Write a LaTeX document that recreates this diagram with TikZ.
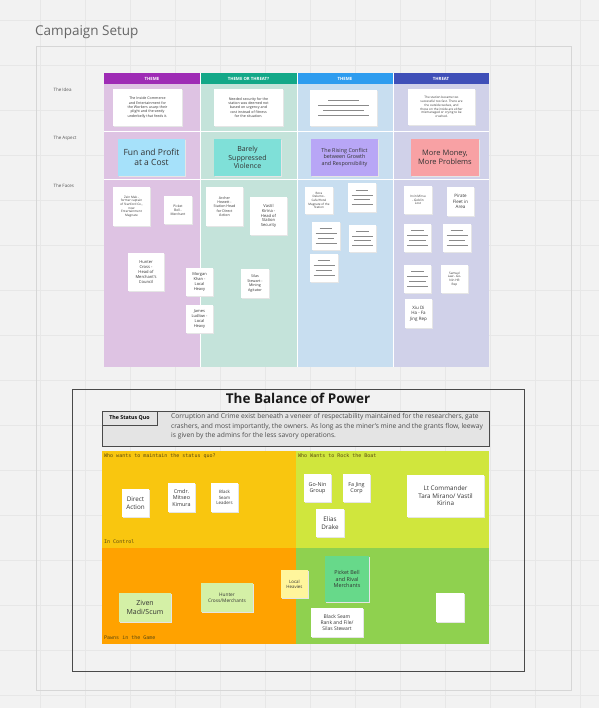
\documentclass[tikz,border=0pt]{standalone}
\usepackage{fontspec}
\setmainfont{Open Sans}
\newfontfamily\monofont{DejaVu Sans Mono}
\definecolor{bgc}{HTML}{F2F2F2}
\definecolor{gridc}{HTML}{E7E7E7}
\definecolor{framec}{HTML}{D6D6D6}
\definecolor{hpurple}{HTML}{9E2BB5}
\definecolor{hteal}{HTML}{13A888}
\definecolor{hblue}{HTML}{2D9CEF}
\definecolor{hindigo}{HTML}{3F4FB8}
\definecolor{bpurple}{HTML}{DEC3E3}
\definecolor{bteal}{HTML}{C4E3DA}
\definecolor{bblue}{HTML}{C8DEF0}
\definecolor{bindigo}{HTML}{D0D1E9}
\definecolor{aspblue}{HTML}{A6E1FA}
\definecolor{aspteal}{HTML}{7FE0D8}
\definecolor{asplav}{HTML}{B8A6F6}
\definecolor{asppink}{HTML}{F8A1A4}
\definecolor{qyellow}{HTML}{F9C60F}
\definecolor{qlime}{HTML}{D0E63D}
\definecolor{qorange}{HTML}{FFA200}
\definecolor{qgreen}{HTML}{8FD14F}
\definecolor{sqfill}{HTML}{E4E4E4}
\definecolor{darkb}{HTML}{4A4A4A}
\definecolor{lgreen}{HTML}{D4F0A6}
\definecolor{lyellow}{HTML}{FFF59C}
\definecolor{mgreen}{HTML}{67D98A}
\definecolor{notetext}{HTML}{333333}
\definecolor{labgray}{HTML}{555555}
\definecolor{quadlab}{HTML}{5A4A10}
\definecolor{phline}{HTML}{8A8A8A}
\tikzset{
  snotebox/.style={draw=none, inner sep=0.5pt, align=center, text=notetext, anchor=center},
  hdrtext/.style={text=white, font=\bfseries\fontsize{4.3}{5}\selectfont, anchor=center},
  rowlab/.style={text=labgray, font=\fontsize{4.5}{5.5}\selectfont, anchor=west},
  quadtext/.style={text=quadlab, font=\monofont\fontsize{5}{6}\selectfont, anchor=west, inner sep=0pt},
}
% name, x1, y1, x2, y2, fill, font size, text
\newcommand\snote[8]{%
  \fill[black!10] (#2+0.7,#3+1.1) rectangle (#4+0.7,#5+1.1);
  \node[snotebox, fill=#6, minimum width={(#4-#2)*1pt}, minimum height={(#5-#3)*1pt},
        font=\fontsize{#7}{\dimexpr #7pt*6/5\relax}\selectfont] (#1) at ({(#2+#4)/2},{(#3+#5)/2}) {#8};}
% placeholder note: name, x1, y1, x2, y2
\newcommand\pnote[5]{%
  \fill[black!10] (#2+0.7,#3+1.1) rectangle (#4+0.7,#5+1.1);
  \node[snotebox, fill=white, minimum width={(#4-#2)*1pt}, minimum height={(#5-#3)*1pt}] (#1) at ({(#2+#4)/2},{(#3+#5)/2}) {};
  \foreach \w/\k in {0.45/-1.5,0.75/-0.5,0.6/0.5,0.75/1.5}{
    \draw[phline, line width=0.9pt] ($(#1.center)+(-\w*0.5*#4+\w*0.5*#2,\k*4.8)$) -- ($(#1.center)+(\w*0.5*#4-\w*0.5*#2,\k*4.8)$);}
}
\usetikzlibrary{calc}
\begin{document}
\begin{tikzpicture}[x=1pt,y=-1pt]
\useasboundingbox (0,0) rectangle (599,708);
\fill[bgc] (0,0) rectangle (599,708);
% grid
\foreach \gx in {40,85,...,599} \draw[gridc, line width=0.5pt] (\gx,0) -- (\gx,708);
\foreach \gy in {20,65,...,708} \draw[gridc, line width=0.5pt] (0,\gy) -- (599,\gy);
% frame
\node[anchor=west, text=black!60, font=\fontsize{13.5}{16}\selectfont, inner sep=0pt] (frametitle) at (35,32) {Campaign Setup};
\draw[framec, line width=0.8pt] (36,46) rectangle (571,690);

% board columns
\fill[bpurple] (104,84) rectangle (200,367);
\fill[bteal] (200,84) rectangle (297,367);
\fill[bblue] (297,84) rectangle (393,367);
\fill[bindigo] (393,84) rectangle (489,367);
\fill[hpurple] (104,73) rectangle (200,84);
\fill[hteal] (200,73) rectangle (297,84);
\fill[hblue] (297,73) rectangle (393,84);
\fill[hindigo] (393,73) rectangle (489,84);
\node[hdrtext] (h1) at (152,78.5) {THEME};
\node[hdrtext] (h2) at (248.5,78.5) {THEME OR THREAT?};
\node[hdrtext] (h3) at (345,78.5) {THEME};
\node[hdrtext] (h4) at (441,78.5) {THREAT};
\draw[white, line width=1pt] (104,132) -- (489,132);
\draw[white, line width=1pt] (104,180) -- (489,180);
\foreach \cx in {200,297,393} \draw[white, line width=1pt] (\cx,73) -- (\cx,367);

% row labels
\node[rowlab] (rl1) at (50,90) {The Idea};
\node[rowlab] (rl2) at (50,138) {The Aspect};
\node[rowlab] (rl3) at (50,186) {The Faces};

% idea notes
\snote{i1}{113}{89}{182}{126}{white}{3.6}{The Inside Commerce\\and Entertainment for\\the Workers usurp their\\plight and the seedy\\underbelly that feeds it.}
\snote{i2}{214}{89}{283}{126}{white}{3.6}{Needed security for the\\station was deemed not\\based on urgency and\\cost instead of fitness\\for the situation.}
\pnote{i3}{310}{90}{377}{126}
\snote{i4}{408}{89}{475}{125}{white}{3.1}{The station became too\\successful too fast. There are\\the outside wolves, and\\those on the inside are either\\mismanaged or crying to be\\crushed.}

% aspect notes
\snote{a1}{118}{139}{185}{176}{aspblue}{8.5}{Fun and Profit\\at a Cost}
\snote{a2}{214}{139}{281}{176}{aspteal}{7}{Barely\\Suppressed\\Violence}
\snote{a3}{311}{139}{378}{176}{asplav}{5.4}{The Rising Conflict\\between Growth\\and Responsibility}
\snote{a4}{411}{139}{479}{176}{asppink}{7.5}{More Money,\\More Problems}

% faces
\snote{f1}{113}{187}{150}{226}{white}{3.1}{Zein Mak -\\former captain\\of Stanford Co.,\\now\\Entertainment\\Magnate}
\snote{f2}{164}{196}{192}{224}{white}{3.3}{Picket\\Bell -\\Merchant}
\snote{f3}{206}{187}{243}{226}{white}{3.6}{Archer\\Hewett -\\Station Head\\for Direct\\Action}
\snote{f4}{250}{197}{287}{235}{white}{4.1}{Vastil\\Kirina -\\Head of\\Station\\Security}
\snote{f5}{128}{253}{164}{291}{white}{4.1}{Hunter\\Cross -\\Head of\\Merchant's\\Council}
\snote{f6}{186}{268}{213}{296}{white}{4}{Morgan\\Khan -\\Local\\Heavy}
\snote{f7}{241}{269}{269}{298}{white}{3.7}{Silas\\Stewart -\\Mining\\Agitator}
\snote{f8}{186}{305}{213}{333}{white}{4}{James\\Ludlow -\\Local\\Heavy}
\snote{f9}{305}{187}{333}{214}{white}{3}{Bora\\Delumo -\\Cafe/Hotel\\Magnate of the\\Station}
\pnote{f10}{348}{183}{376}{212}
\pnote{f11}{312}{222}{340}{250}
\pnote{f12}{349}{225}{376}{252}
\pnote{f13}{310}{254}{338}{282}
\snote{f14}{404}{186}{432}{214}{white}{3.1}{Irvin Mirsu\\- Goblin\\Lost}
\snote{f15}{447}{187}{474}{216}{white}{4.5}{Pirate\\Fleet in\\Area}
\pnote{f16}{404}{224}{431}{252}
\pnote{f17}{443}{224}{471}{252}
\pnote{f18}{404}{265}{431}{293}
\snote{f19}{441}{265}{468}{293}{white}{3.1}{Samuel\\Law - Go-\\Nin HR\\Rep}
\snote{f20}{405}{299}{432}{328}{white}{4.5}{Xiu Di\\Ha - Fa\\Jing Rep}

% balance of power frame
\draw[darkb, line width=0.8pt] (72,389) rectangle (524,671);
\node[font=\bfseries\fontsize{13.5}{15}\selectfont, text=black!90] (bptitle) at (298,398) {The Balance of Power};
\draw[darkb, fill=sqfill, line width=0.8pt] (102,411) rectangle (489,446);
\node[draw=darkb, line width=0.8pt, fill=sqfill, font=\bfseries\fontsize{5.3}{6}\selectfont, minimum width=55pt, minimum height=14pt, inner sep=0pt] (sq) at (129.5,418) {The Status Quo};
\node[anchor=north west, align=left, inner sep=0pt, text=black!70, font=\fontsize{6.7}{9.4}\selectfont] (sqtext) at (171,413.5) {Corruption and Crime exist beneath a veneer of respectability maintained for the researchers, gate\\crashers, and most importantly, the owners. As long as the miner's mine and the grants flow, leeway\\is given by the admins for the less savory operations.};

% quadrants
\fill[qyellow] (102,451) rectangle (296,548);
\fill[qlime] (296,451) rectangle (489,548);
\fill[qorange] (102,548) rectangle (296,644);
\fill[qgreen] (296,548) rectangle (489,644);
\node[quadtext] (q1) at (104,456) {Who wants to maintain the status quo?};
\node[quadtext] (q2) at (104,542) {In Control};
\node[quadtext] (q3) at (298,456) {Who Wants to Rock the Boat};
\node[quadtext] (q4) at (104,638) {Pawns in the Game};

\snote{b1}{122}{489}{149}{517}{white}{6.3}{Direct\\Action}
\snote{b2}{168}{483}{195}{512}{white}{5.4}{Cmdr.\\Mitseo\\Kimura}
\snote{b3}{211}{483}{238}{512}{white}{4.4}{Black\\Seam\\Leaders}
\snote{b4}{304}{474}{331}{502}{white}{5.4}{Go-Nin\\Group}
\snote{b5}{343}{474}{370}{502}{white}{5.4}{Fa Jing\\Corp}
\snote{b6}{316}{509}{344}{537}{white}{6.3}{Elias\\Drake}
\snote{b7}{407}{475}{484}{517}{white}{6.3}{Lt Commander\\Tara Mirano/ Vastil\\Kirina}
\snote{b8}{119}{593}{171}{622}{lgreen}{7}{Ziven\\Madi/Scum}
\snote{b9}{201}{583}{253}{612}{lgreen}{4.8}{Hunter\\Cross/Merchants}
\snote{b10}{281}{570}{308}{598}{lyellow}{4.4}{Local\\Heavies}
\snote{b11}{325}{556}{369}{602}{mgreen}{5.4}{Picket Bell\\and Rival\\Merchants}
\snote{b12}{311}{608}{363}{637}{white}{5}{Black Seam\\Rank and File/\\Silas Stewart}
\snote{b13}{436}{593}{464}{622}{white}{5}{}
\end{tikzpicture}
\end{document}
